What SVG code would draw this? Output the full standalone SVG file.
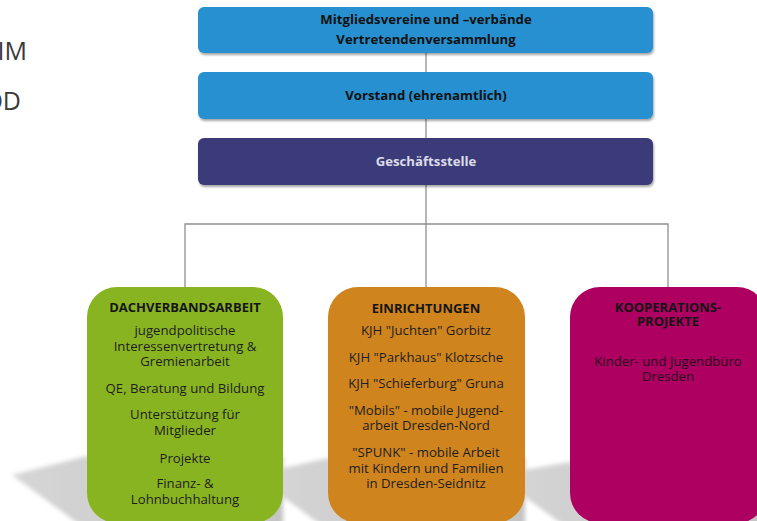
<svg xmlns="http://www.w3.org/2000/svg" width="757" height="521" viewBox="0 0 757 521">
  <defs>
    <filter id="lift" x="-5%" y="-30%" width="110%" height="170%">
      <feDropShadow dx="1" dy="2" stdDeviation="1.3" flood-color="#000" flood-opacity="0.35"/>
    </filter>
    <filter id="soft" x="-10%" y="-20%" width="120%" height="140%">
      <feGaussianBlur stdDeviation="2"/>
    </filter>
    <linearGradient id="castShade" x1="0" y1="0" x2="1" y2="0">
      <stop offset="0" stop-color="#d6d6d6"/>
      <stop offset="1" stop-color="#c4c4c4"/>
    </linearGradient>
    <style>
      .line { stroke: #8f8f8f; stroke-width: 1.3; fill: none; }
      .head { font-family: "Open Sans", "Noto Sans", sans-serif; font-weight: 700; font-size: 13.2px; text-anchor: middle; fill: #111; }
      .title { font-family: "Open Sans", "Noto Sans", sans-serif; font-weight: 700; font-size: 13px; text-anchor: middle; fill: #151515; }
      .body { font-family: "Open Sans", "Noto Sans", sans-serif; font-size: 13.2px; text-anchor: middle; fill: #1e1e1e; }
      .side { font-family: "Open Sans", "Noto Sans", sans-serif; font-size: 25px; fill: #3a3a3a; text-anchor: end; }
      .cast { fill: url(#castShade); filter: url(#soft); }
    </style>
  </defs>

  <rect width="757" height="521" fill="#ffffff"/>

  <!-- partly visible side text -->
  <text class="side" x="27" y="60">IM</text>
  <text class="side" x="21" y="110">OD</text>

  <!-- connectors -->
  <g id="connectors">
    <line class="line" x1="426" y1="50" x2="426" y2="224"/>
    <polyline class="line" points="185,287 185,224 668,224 668,287"/>
    <line class="line" x1="426" y1="224" x2="426" y2="287"/>
  </g>

  <!-- cast shadows under the lower boxes -->
  <g id="shadows">
    <polygon class="cast" points="12,475 87,456 283,456 283,530 87,530"/>
    <polygon class="cast" points="253,475 328,458 525,458 525,530 328,530"/>
    <polygon class="cast" points="495,475 570,462 767,462 767,530 570,530"/>
  </g>

  <g id="node-mitglieder">
    <rect x="198" y="7" width="455" height="46" rx="6" fill="#2590d0" filter="url(#lift)"/>
    <text class="head" x="426" y="24">Mitgliedsvereine und –verbände</text>
    <text class="head" x="426" y="44">Vertretendenversammlung</text>
  </g>

  <g id="node-vorstand">
    <rect x="198" y="72" width="455" height="47" rx="6" fill="#2590d0" filter="url(#lift)"/>
    <text class="head" x="426" y="100">Vorstand (ehrenamtlich)</text>
  </g>

  <g id="node-geschaeftsstelle">
    <rect x="198" y="138" width="455" height="47" rx="6" fill="#3b3a7a" filter="url(#lift)"/>
    <text class="head" x="426" y="166" style="fill:#dcdce8">Geschäftsstelle</text>
  </g>

  <g id="node-dachverband">
    <rect x="87" y="287" width="196" height="236" rx="30" fill="#89b422"/>
    <text class="title" x="185" y="312">DACHVERBANDSARBEIT</text>
    <text class="body" x="185" y="335">jugendpolitische</text>
    <text class="body" x="185" y="351">Interessenvertretung &amp;</text>
    <text class="body" x="185" y="366">Gremienarbeit</text>
    <text class="body" x="185" y="393">QE, Beratung und Bildung</text>
    <text class="body" x="185" y="419">Unterstützung für</text>
    <text class="body" x="185" y="435">Mitglieder</text>
    <text class="body" x="185" y="463">Projekte</text>
    <text class="body" x="185" y="488">Finanz- &amp;</text>
    <text class="body" x="185" y="504">Lohnbuchhaltung</text>
  </g>

  <g id="node-einrichtungen">
    <rect x="328" y="287" width="197" height="236" rx="30" fill="#cf841e"/>
    <text class="title" x="426" y="313">EINRICHTUNGEN</text>
    <text class="body" x="426" y="335">KJH "Juchten" Gorbitz</text>
    <text class="body" x="426" y="362">KJH "Parkhaus" Klotzsche</text>
    <text class="body" x="426" y="388">KJH "Schieferburg" Gruna</text>
    <text class="body" x="426" y="415">"Mobils" - mobile Jugend-</text>
    <text class="body" x="426" y="430">arbeit Dresden-Nord</text>
    <text class="body" x="426" y="457">"SPUNK" - mobile Arbeit</text>
    <text class="body" x="426" y="473">mit Kindern und Familien</text>
    <text class="body" x="426" y="488">in Dresden-Seidnitz</text>
  </g>

  <g id="node-kooperation">
    <rect x="570" y="287" width="197" height="236" rx="30" fill="#ad0061"/>
    <text class="title" x="668" y="312">KOOPERATIONS-</text>
    <text class="title" x="668" y="326">PROJEKTE</text>
    <text class="body" x="668" y="366" style="fill:#2a0a1c">Kinder- und Jugendbüro</text>
    <text class="body" x="668" y="381" style="fill:#2a0a1c">Dresden</text>
  </g>
</svg>
